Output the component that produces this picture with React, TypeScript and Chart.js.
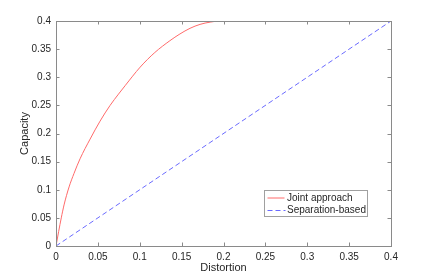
import React, { useEffect, useRef } from "react";
import { Chart, registerables } from "chart.js";

Chart.register(...registerables);

const distortion = [0, 0.0032, 0.0063, 0.0096, 0.0156, 0.0215, 0.0287, 0.0407, 0.0526, 0.0646, 0.0746, 0.0825, 0.1005, 0.118, 0.136, 0.148, 0.16, 0.172, 0.184, 0.196, 0.2, 0.4];
const jointCapacity = [0, 0.026, 0.05, 0.073, 0.105, 0.129, 0.155, 0.19, 0.222, 0.25, 0.27, 0.285, 0.318, 0.344, 0.365, 0.377, 0.387, 0.394, 0.398, 0.4, 0.4, 0.4];
const sepDistortion = [0, 0.4];
const sepCapacity = [0, 0.4];
const tickValues = [0, 0.05, 0.1, 0.15, 0.2, 0.25, 0.3, 0.35, 0.4];
const tickLabels = ["0", "0.05", "0.1", "0.15", "0.2", "0.25", "0.3", "0.35", "0.4"];
const seriesNames = ["Joint approach", "Separation-based"];
const xTitle = "Distortion";
const yTitle = "Capacity";

const FONT = "'Liberation Sans', Arial, Helvetica, sans-serif";
const RED = "#ff6a6a";
const BLUE = "#6a6aff";

const framePlugin = {
  id: "matlabFrame",
  afterDatasetsDraw(chart: any) {
    const { ctx, chartArea } = chart;
    const { left, right, top, bottom } = chartArea;
    const xs = chart.scales.x;
    const ys = chart.scales.y;
    ctx.save();
    ctx.strokeStyle = "#8a8a8a";
    ctx.lineWidth = 1;
    ctx.strokeRect(Math.round(left) + 0.5, Math.round(top) + 0.5, Math.round(right - left), Math.round(bottom - top));
    const tl = 3.5;
    ctx.beginPath();
    tickValues.forEach((v) => {
      const px = Math.round(xs.getPixelForValue(v)) + 0.5;
      ctx.moveTo(px, bottom);
      ctx.lineTo(px, bottom - tl);
      ctx.moveTo(px, top);
      ctx.lineTo(px, top + tl);
      const py = Math.round(ys.getPixelForValue(v)) + 0.5;
      ctx.moveTo(left, py);
      ctx.lineTo(left + tl, py);
      ctx.moveTo(right, py);
      ctx.lineTo(right - tl, py);
    });
    ctx.stroke();

    // legend
    const bw = 103;
    const bh = 26;
    const bx = Math.round(right - 24.5 - bw) + 0.5;
    const by = Math.round(bottom - 30.5 - bh) + 0.5;
    ctx.fillStyle = "#ffffff";
    ctx.fillRect(bx, by, bw, bh);
    ctx.strokeStyle = "#a0a0a0";
    ctx.strokeRect(bx, by, bw, bh);
    const y1 = by + 7.5;
    const y2 = by + 20;
    ctx.lineWidth = 1;
    ctx.strokeStyle = RED;
    ctx.beginPath();
    ctx.moveTo(bx + 3, y1);
    ctx.lineTo(bx + 20, y1);
    ctx.stroke();
    ctx.strokeStyle = BLUE;
    ctx.setLineDash([5, 3]);
    ctx.beginPath();
    ctx.moveTo(bx + 3, y2);
    ctx.lineTo(bx + 21, y2);
    ctx.stroke();
    ctx.setLineDash([]);
    ctx.fillStyle = "#262626";
    ctx.font = `10px ${FONT}`;
    ctx.textBaseline = "middle";
    ctx.textAlign = "left";
    ctx.fillText(seriesNames[0], bx + 22.5, y1);
    ctx.fillText(seriesNames[1], bx + 22.5, y2);
    ctx.restore();
  },
};

export default function App() {
  const ref = useRef<HTMLCanvasElement | null>(null);
  useEffect(() => {
    if (!ref.current) return;
    const chart = new Chart(ref.current, {
      type: "line",
      data: {
        datasets: [
          {
            label: seriesNames[0],
            data: distortion.map((d, i) => ({ x: d, y: jointCapacity[i] })),
            borderColor: RED,
            borderWidth: 1,
            pointRadius: 0,
            cubicInterpolationMode: "monotone",
            fill: false,
          },
          {
            label: seriesNames[1],
            data: sepDistortion.map((d, i) => ({ x: d, y: sepCapacity[i] })),
            borderColor: BLUE,
            borderWidth: 1,
            borderDash: [5, 3],
            pointRadius: 0,
            fill: false,
          },
        ],
      },
      options: {
        animation: false,
        responsive: false,
        devicePixelRatio: 1,
        layout: { padding: { top: 21, right: 41, left: 0, bottom: 0 } },
        plugins: { legend: { display: false }, tooltip: { enabled: false } },
        scales: {
          x: {
            type: "linear",
            min: 0,
            max: 0.4,
            grid: { display: false, drawTicks: false },
            border: { display: false },
            afterBuildTicks: (s: any) => {
              s.ticks = tickValues.map((v) => ({ value: v }));
            },
            afterFit: (s: any) => {
              s.height = 31;
            },
            ticks: {
              autoSkip: false,
              maxRotation: 0,
              padding: 5,
              color: "#262626",
              font: { family: FONT, size: 10 },
              callback: (v: any) => tickLabels[tickValues.findIndex((t) => Math.abs(t - v) < 1e-9)] ?? "",
            },
            title: {
              display: true,
              text: xTitle,
              color: "#262626",
              font: { family: FONT, size: 11 },
              padding: { top: 0, bottom: 2 },
            },
          },
          y: {
            type: "linear",
            min: 0,
            max: 0.4,
            grid: { display: false, drawTicks: false },
            border: { display: false },
            afterBuildTicks: (s: any) => {
              s.ticks = tickValues.map((v) => ({ value: v }));
            },
            afterFit: (s: any) => {
              s.width = 56;
            },
            ticks: {
              autoSkip: false,
              padding: 5,
              color: "#262626",
              font: { family: FONT, size: 10 },
              callback: (v: any) => tickLabels[tickValues.findIndex((t) => Math.abs(t - v) < 1e-9)] ?? "",
            },
            title: {
              display: true,
              text: yTitle,
              color: "#262626",
              font: { family: FONT, size: 11 },
              padding: { top: 18, bottom: 0 },
            },
          },
        },
      },
      plugins: [framePlugin],
    } as any);
    return () => chart.destroy();
  }, []);
  return (
    <div style={{ position: "fixed", left: 0, top: 0, width: 432, height: 277, background: "#fff" }}>
      <canvas ref={ref} width={432} height={277} style={{ width: 432, height: 277, display: "block" }} />
    </div>
  );
}
